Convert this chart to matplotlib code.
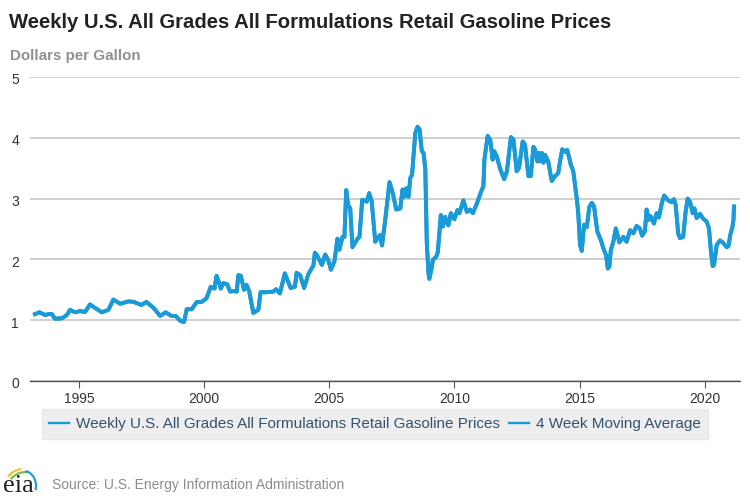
import matplotlib
matplotlib.use('Agg')
import matplotlib.pyplot as plt
from matplotlib.patches import Arc
from matplotlib.transforms import ScaledTranslation

plt.rcParams['font.family'] = ['Liberation Sans', 'DejaVu Sans']

BLUE = '#1a9ad6'
W, H = 750, 500

# as (decimal year, dollars per gallon)
years = [1993.25, 1993.43, 1993.65, 1993.8, 1993.92, 1994.05, 1994.32, 1994.52, 1994.65, 1994.85,
         1995.05, 1995.25, 1995.45, 1995.58, 1995.92, 1996.18, 1996.38, 1996.65, 1996.98, 1997.2,
         1997.5, 1997.7, 1997.98, 1998.25, 1998.47, 1998.7, 1998.87, 1999.05, 1999.2, 1999.31,
         1999.51, 1999.71, 1999.9, 2000.1, 2000.27, 2000.42, 2000.5, 2000.61, 2000.67, 2000.77,
         2000.93, 2001.04, 2001.17, 2001.31, 2001.37, 2001.47, 2001.6, 2001.7, 2001.81, 2001.97,
         2002.17, 2002.26, 2002.5, 2002.77, 2002.88, 2003.03, 2003.23, 2003.46, 2003.63, 2003.7,
         2003.84, 2004.0, 2004.17, 2004.37, 2004.43, 2004.51, 2004.71, 2004.84, 2004.97, 2005.07,
         2005.21, 2005.33, 2005.41, 2005.53, 2005.61, 2005.68, 2005.75, 2005.84, 2005.93, 2006.13,
         2006.21, 2006.32, 2006.5, 2006.6, 2006.7, 2006.84, 2007.03, 2007.11, 2007.23, 2007.41,
         2007.54, 2007.68, 2007.84, 2007.93, 2008.01, 2008.08, 2008.17, 2008.24, 2008.31, 2008.44,
         2008.53, 2008.61, 2008.7, 2008.77, 2008.84, 2008.9, 2008.97, 2009.0, 2009.1, 2009.14,
         2009.27, 2009.34, 2009.46, 2009.54, 2009.63, 2009.76, 2009.86, 2010.0, 2010.12, 2010.2,
         2010.36, 2010.5, 2010.63, 2010.74, 2010.9, 2011.1, 2011.16, 2011.2, 2011.33, 2011.43,
         2011.53, 2011.59, 2011.69, 2011.83, 2011.99, 2012.1, 2012.26, 2012.36, 2012.49, 2012.58,
         2012.73, 2012.82, 2012.96, 2013.05, 2013.16, 2013.22, 2013.32, 2013.38, 2013.45, 2013.5,
         2013.56, 2013.62, 2013.75, 2013.89, 2014.02, 2014.15, 2014.22, 2014.31, 2014.42, 2014.51,
         2014.65, 2014.75, 2014.89, 2014.95, 2015.02, 2015.09, 2015.18, 2015.29, 2015.39, 2015.49,
         2015.58, 2015.71, 2015.85, 2015.98, 2016.06, 2016.13, 2016.19, 2016.25, 2016.35, 2016.45,
         2016.59, 2016.75, 2016.88, 2017.02, 2017.15, 2017.28, 2017.41, 2017.5, 2017.61, 2017.68,
         2017.77, 2017.84, 2017.97, 2018.08, 2018.17, 2018.29, 2018.38, 2018.54, 2018.68, 2018.77,
         2018.84, 2018.94, 2019.01, 2019.14, 2019.24, 2019.32, 2019.41, 2019.52, 2019.59, 2019.68,
         2019.81, 2019.92, 2020.08, 2020.17, 2020.25, 2020.32, 2020.37, 2020.48, 2020.61, 2020.72,
         2020.88, 2020.95, 2021.02, 2021.11, 2021.15, 2021.17]
weekly = [1.10, 1.13, 1.085, 1.10, 1.10, 1.025, 1.03, 1.085, 1.17, 1.13,
          1.15, 1.135, 1.26, 1.22, 1.13, 1.17, 1.34, 1.27, 1.31, 1.30,
          1.25, 1.30, 1.205, 1.07, 1.13, 1.07, 1.07, 0.99, 0.97, 1.18,
          1.18, 1.30, 1.30, 1.36, 1.55, 1.52, 1.73, 1.61, 1.52, 1.61,
          1.59, 1.47, 1.48, 1.47, 1.74, 1.73, 1.50, 1.58, 1.47, 1.12,
          1.17, 1.46, 1.46, 1.47, 1.51, 1.44, 1.77, 1.53, 1.55, 1.78,
          1.74, 1.53, 1.76, 1.90, 2.11, 2.07, 1.91, 2.08, 1.98, 1.83,
          1.97, 2.34, 2.16, 2.37, 2.37, 3.14, 2.90, 2.84, 2.20, 2.34,
          2.37, 2.98, 2.95, 3.09, 2.95, 2.29, 2.40, 2.23, 2.62, 3.27,
          3.09, 2.82, 2.84, 3.15, 3.03, 3.17, 3.03, 3.34, 3.39, 4.08,
          4.18, 4.14, 3.78, 3.75, 3.48, 2.26, 1.76, 1.68, 1.87, 1.99,
          2.04, 2.12, 2.73, 2.54, 2.70, 2.56, 2.76, 2.66, 2.81, 2.76,
          2.97, 2.78, 2.82, 2.76, 2.92, 3.15, 3.20, 3.64, 4.03, 3.97,
          3.64, 3.78, 3.70, 3.49, 3.32, 3.45, 4.01, 3.97, 3.45, 3.50,
          3.94, 3.89, 3.37, 3.37, 3.85, 3.81, 3.61, 3.75, 3.61, 3.75,
          3.59, 3.72, 3.61, 3.29, 3.37, 3.42, 3.61, 3.81, 3.77, 3.80,
          3.56, 3.45, 3.00, 2.76, 2.24, 2.14, 2.57, 2.53, 2.86, 2.93,
          2.87, 2.46, 2.32, 2.15, 2.07, 1.85, 1.88, 2.15, 2.29, 2.51,
          2.28, 2.37, 2.29, 2.48, 2.43, 2.55, 2.51, 2.39, 2.46, 2.82,
          2.65, 2.71, 2.59, 2.76, 2.69, 2.93, 3.05, 2.97, 2.94, 2.99,
          2.90, 2.43, 2.35, 2.37, 2.79, 3.00, 2.95, 2.76, 2.84, 2.68,
          2.75, 2.68, 2.62, 2.51, 2.13, 1.89, 1.91, 2.24, 2.31, 2.28,
          2.20, 2.22, 2.40, 2.54, 2.65, 2.87]
# the average sits under the weekly line everywhere in the picture, no separate reading possible
moving_avg = weekly

x_ticks = [1995, 2000, 2005, 2010, 2015, 2020]
y_ticks = [0, 1, 2, 3, 4, 5]

fig = plt.figure(figsize=(W / 100, H / 100), dpi=100)
ax = fig.add_axes([30 / W, 1 - 381 / H, 710 / W, 304 / H])

ax.plot(years, weekly, color=BLUE, lw=2.8, solid_joinstyle='round',
        label='Weekly U.S. All Grades All Formulations Retail Gasoline Prices')
ax.plot(years, moving_avg, color=BLUE, lw=2.8, solid_joinstyle='round',
        label='4 Week Moving Average')

ax.set_xlim(1993.05, 2021.41)
ax.set_ylim(0, 5)
ax.set_xticks(x_ticks)
ax.set_yticks(y_ticks)
ax.grid(axis='y', color='#cccccc', lw=1.3)
ax.set_axisbelow(True)
for side in ['top', 'left', 'right']:
    ax.spines[side].set_visible(False)
ax.spines['bottom'].set_color('#555555')
ax.spines['bottom'].set_linewidth(1)
ax.tick_params(axis='x', length=5, width=0.8, color='#555555', labelsize=10, labelcolor='#333333', pad=3)
ax.tick_params(axis='y', length=0, labelsize=10, labelcolor='#333333', pad=8)
# y labels sit a little under their gridlines
for lab in ax.get_yticklabels():
    lab.set_transform(lab.get_transform() + ScaledTranslation(0, -2 / 100, fig.dpi_scale_trans))

fig.text(9 / W, 1 - 22 / H, 'Weekly U.S. All Grades All Formulations Retail Gasoline Prices',
         fontsize=14.6, fontweight='bold', color='#222222', va='center')
fig.text(10 / W, 1 - 56 / H, 'Dollars per Gallon', fontsize=10.9, fontweight='bold',
         color='#909090', va='center')

leg = ax.legend(loc='center', bbox_to_anchor=(375 / W, 1 - 424 / H), bbox_transform=fig.transFigure,
                ncol=2, frameon=True, fancybox=False, facecolor='#eeeeee', edgecolor='#e8e8e8',
                framealpha=1, fontsize=11, labelcolor='#34536f', handlelength=1.3,
                handletextpad=0.45, columnspacing=0.6, borderpad=0.5, borderaxespad=0)
for handle in leg.get_lines():
    handle.set_linewidth(1.7)

fig.text(52 / W, 1 - 485 / H, 'Source: U.S. Energy Information Administration', fontsize=10,
         color='#8c8c8c', va='center')

# eia logo, pixel coordinates on a full figure overlay
logo = fig.add_axes([0, 0, 1, 1], facecolor='none')
logo.set_xlim(0, W)
logo.set_ylim(H, 0)
logo.axis('off')
logo.text(3, 486, 'eia', family='Liberation Serif', fontsize=19, color='#222222', va='center')
logo.add_patch(Arc((23, 487), 36, 36, theta1=215, theta2=265, color='#f2c230', lw=1.6))
logo.add_patch(Arc((26, 492), 40, 40, theta1=220, theta2=280, color='#7ab648', lw=1.5))
logo.add_patch(Arc((24, 486), 24, 30, theta1=-85, theta2=20, color='#1a9ad6', lw=1.5))

fig.savefig('out.png', dpi=100)
